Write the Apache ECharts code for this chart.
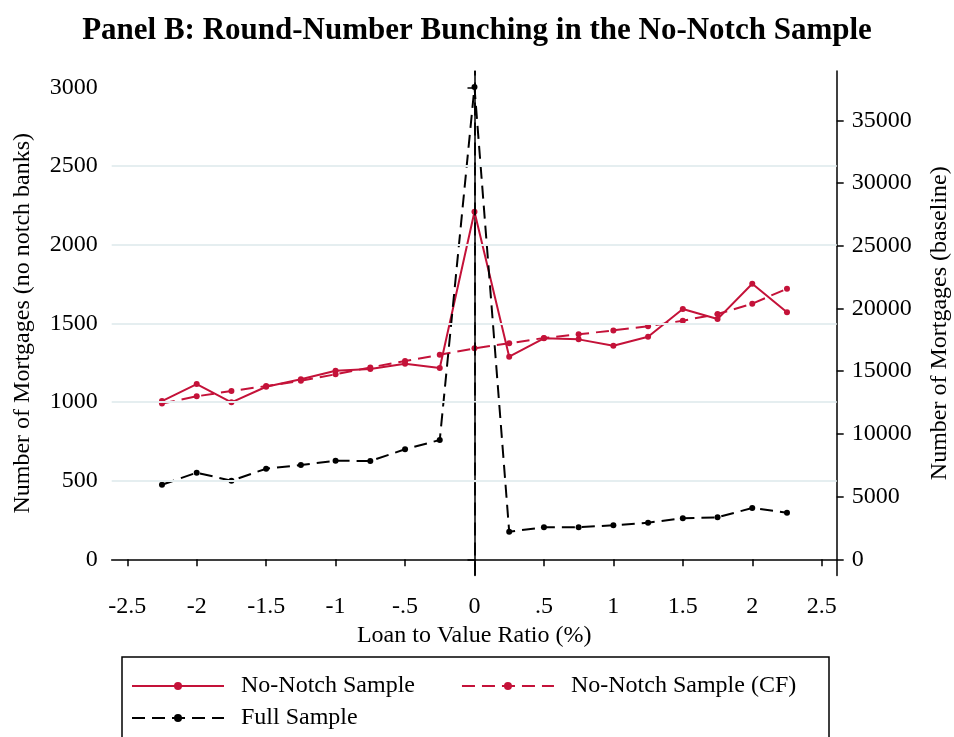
<!DOCTYPE html>
<html>
<head>
<meta charset="utf-8">
<script src="https://cdn.jsdelivr.net/npm/echarts@6/dist/echarts.min.js"></script>
<style>html,body{margin:0;padding:0;background:#fff}#c{width:954px;height:737px}</style>
</head>
<body>
<div id="c"></div>
<script>
const ltv = [-2.25,-2,-1.75,-1.5,-1.25,-1,-0.75,-0.5,-0.25,0,0.25,0.5,0.75,1,1.25,1.5,1.75,2,2.25];
const noNotch = [1006,1114,998,1097,1144,1199,1210,1243,1216,2209,1288,1405,1398,1358,1415,1591,1527,1752,1570];
const noNotchCF = [990,1036,1070,1101,1135,1176,1220,1260,1300,1341,1373,1407,1430,1455,1481,1517,1559,1625,1720];
const fullSample = [5948,6904,6267,7223,7518,7861,7837,8770,9511,37654,2200,2551,2551,2711,2918,3269,3348,4090,3715];
const xTicks = [-2.5,-2,-1.5,-1,-0.5,0,0.5,1,1.5,2,2.5];
const leftTicks = [0,500,1000,1500,2000,2500,3000];
const rightTicks = [0,5000,10000,15000,20000,25000,30000,35000];
const gridLines = [500,1000,1500,2000,2500];

const RED = '#c41239';
const FONT = 'Liberation Serif';
const FS = 24;
const pairs = arr => ltv.map((x,i)=>[x,arr[i]]);
const fmtX = v => String(v).replace('0.', '.');
const fmtY = v => String(v);

const chart = echarts.init(document.getElementById('c'));
chart.setOption({
  animation:false,
  backgroundColor:'#fff',
  textStyle:{fontFamily:FONT, color:'#000'},
  title:{text:'Panel B: Round-Number Bunching in the No-Notch Sample', left:'center', top:10,
    textStyle:{fontFamily:FONT, fontWeight:'bold', fontSize:31, color:'#000'}},
  grid:{left:111.7, right:117.3, top:71, bottom:161.5, containLabel:false, outerBoundsMode:'none'},
  xAxis:{type:'value', min:-2.612, max:2.608,
    name:'Loan to Value Ratio (%)', nameLocation:'middle', nameGap:44,
    nameTextStyle:{fontFamily:FONT, fontSize:FS, color:'#000'},
    axisLine:{show:true, lineStyle:{color:'#000', width:1.5}},
    axisTick:{show:true, inside:false, length:7, customValues:xTicks, lineStyle:{color:'#000', width:1.5}},
    axisLabel:{customValues:xTicks, formatter:fmtX, fontFamily:FONT, fontSize:FS, color:'#000', margin:19},
    splitLine:{show:false}},
  yAxis:[
    {type:'value', position:'left', min:-103, max:3104,
     name:'Number of Mortgages (no notch banks)', nameLocation:'middle', nameGap:77,
     nameTextStyle:{fontFamily:FONT, fontSize:FS, color:'#000'},
     axisLine:{show:true, lineStyle:{color:'#000', width:1.5}},
     axisTick:{show:true, length:7, customValues:leftTicks, lineStyle:{color:'#000', width:1.5}},
     axisLabel:{customValues:leftTicks, formatter:fmtY, fontFamily:FONT, fontSize:FS, color:'#000', margin:14},
     splitLine:{show:false}},
    {type:'value', position:'right', min:-1292, max:38930,
     name:'Number of Mortgages (baseline)', nameLocation:'middle', nameGap:91,
     nameTextStyle:{fontFamily:FONT, fontSize:FS, color:'#000'},
     axisLine:{show:true, lineStyle:{color:'#000', width:1.5}},
     axisTick:{show:true, length:7, customValues:rightTicks, lineStyle:{color:'#000', width:1.5}},
     axisLabel:{customValues:rightTicks, formatter:fmtY, fontFamily:FONT, fontSize:FS, color:'#000', margin:15},
     splitLine:{show:false}}
  ],
  legend:[
    {data:['No-Notch Sample','No-Notch Sample (CF)'], left:131, top:674, orient:'horizontal',
     itemWidth:92, itemHeight:10, itemGap:46, padding:0,
     textStyle:{fontFamily:FONT, fontSize:FS, color:'#000', padding:[0,0,0,12]}},
    {data:['Full Sample'], left:131, top:706, orient:'horizontal',
     itemWidth:92, itemHeight:10, padding:0,
     textStyle:{fontFamily:FONT, fontSize:FS, color:'#000', padding:[0,0,0,12]}}
  ],
  graphic:[{type:'rect', shape:{x:122, y:657, width:707, height:100}, style:{fill:'none', stroke:'#000', lineWidth:1.5}}],
  series:[
    {name:'grid', type:'line', data:[], yAxisIndex:0, z:1, silent:true,
     markLine:{silent:true, symbol:'none', label:{show:false},
       lineStyle:{color:'#e5eef0', width:2, type:'solid'},
       data:gridLines.map(v=>({yAxis:v}))}},
    {name:'No-Notch Sample', type:'line', yAxisIndex:0, data:pairs(noNotch), z:3,
     symbol:'circle', symbolSize:6, showSymbol:true,
     lineStyle:{color:RED, width:2, type:'solid'}, itemStyle:{color:RED}},
    {name:'No-Notch Sample (CF)', type:'line', yAxisIndex:0, data:pairs(noNotchCF), z:3,
     symbol:'circle', symbolSize:6, showSymbol:true,
     lineStyle:{color:RED, width:2, type:[13,7]}, itemStyle:{color:RED}},
    {name:'Full Sample', type:'line', yAxisIndex:1, data:pairs(fullSample), z:4,
     symbol:'circle', symbolSize:6, showSymbol:true,
     lineStyle:{color:'#000', width:2, type:[13,7]}, itemStyle:{color:'#000'},
     markLine:{silent:true, symbol:'none', label:{show:false},
       lineStyle:{color:'#000', width:1.8, type:[13,7]},
       data:[{xAxis:0}]}}
  ]
});
</script>
</body>
</html>
